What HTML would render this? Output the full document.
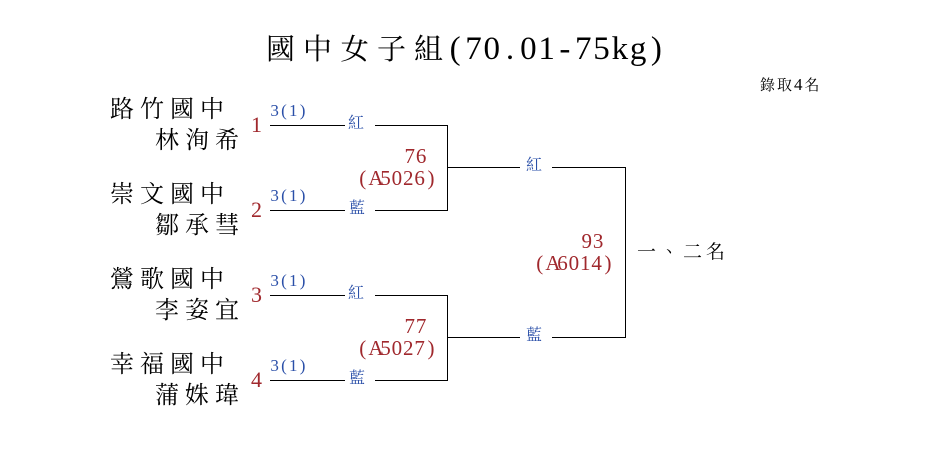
<html><head><style>
body{margin:0;width:935px;height:465px;background:#fff;position:relative;overflow:hidden;font-family:"Noto Serif CJK TC","Noto Serif CJK SC",serif}
div{position:absolute;white-space:nowrap;line-height:1}
.m{font-family:"Liberation Serif",serif}
.m span{display:inline-block;text-align:center}
.t span{width:18.3px}
.q span{width:9.3px}
.p span{width:11.4px}
.n{font-size:24px;color:#000;letter-spacing:6px}
.r{color:#a0282d}
.b{color:#2a4fa8}
.s{font-size:16px}
.h{position:absolute;background:#000;height:1px}
.v{position:absolute;background:#000;width:1px}
</style></head><body>
<div style="left:266px;top:33px;font-size:29px;letter-spacing:8px">國中女子組</div>
<div class="m t" style="left:446px;top:33px;font-size:33px"><span>(</span><span>7</span><span>0</span><span>.</span><span>0</span><span>1</span><span>-</span><span>7</span><span>5</span><span>k</span><span>g</span><span>)</span></div>
<div style="left:760px;top:76px;font-size:15px;letter-spacing:2px">錄取<span class="m" style="font-size:17px">4</span>名</div>

<div class="n" style="left:110px;top:95px">路竹國中</div>
<div class="n" style="left:155px;top:126px">林洵希</div>
<div class="n" style="left:110px;top:180px">崇文國中</div>
<div class="n" style="left:155px;top:211px">鄒承彗</div>
<div class="n" style="left:110px;top:265px">鶯歌國中</div>
<div class="n" style="left:155px;top:296px">李姿宜</div>
<div class="n" style="left:110px;top:350px">幸福國中</div>
<div class="n" style="left:155px;top:381px">蒲姝瑋</div>

<div class="r m" style="left:251px;top:114px;font-size:22px">1</div>
<div class="r m" style="left:251px;top:199px;font-size:22px">2</div>
<div class="r m" style="left:251px;top:284px;font-size:22px">3</div>
<div class="r m" style="left:251px;top:369px;font-size:22px">4</div>
<div class="b m q" style="left:270px;top:102px;font-size:17px"><span>3</span><span>(</span><span>1</span><span>)</span></div>
<div class="b m q" style="left:270px;top:187px;font-size:17px"><span>3</span><span>(</span><span>1</span><span>)</span></div>
<div class="b m q" style="left:270px;top:272px;font-size:17px"><span>3</span><span>(</span><span>1</span><span>)</span></div>
<div class="b m q" style="left:270px;top:357px;font-size:17px"><span>3</span><span>(</span><span>1</span><span>)</span></div>

<div class="h" style="left:270px;top:125px;width:75px"></div><div class="h" style="left:375px;top:125px;width:72px"></div>
<div class="h" style="left:270px;top:210px;width:75px"></div><div class="h" style="left:375px;top:210px;width:72px"></div>
<div class="h" style="left:270px;top:295px;width:75px"></div><div class="h" style="left:375px;top:295px;width:72px"></div>
<div class="h" style="left:270px;top:380px;width:75px"></div><div class="h" style="left:375px;top:380px;width:72px"></div>
<div class="v" style="left:447px;top:125px;height:86px"></div>
<div class="v" style="left:447px;top:295px;height:86px"></div>
<div class="b s" style="left:348px;top:114px">紅</div>
<div class="b s" style="left:349px;top:199px">藍</div>
<div class="b s" style="left:348px;top:284px">紅</div>
<div class="b s" style="left:349px;top:369px">藍</div>

<div class="h" style="left:447px;top:167px;width:73px"></div><div class="h" style="left:552px;top:167px;width:73px"></div>
<div class="h" style="left:447px;top:337px;width:73px"></div><div class="h" style="left:552px;top:337px;width:73px"></div>
<div class="v" style="left:625px;top:167px;height:171px"></div>
<div class="b s" style="left:526px;top:156px">紅</div>
<div class="b s" style="left:526px;top:326px">藍</div>

<div class="r m p" style="left:404px;top:146px;font-size:21px"><span>7</span><span>6</span></div>
<div class="r m p" style="left:357px;top:168px;font-size:21px"><span>(</span><span>A</span><span>5</span><span>0</span><span>2</span><span>6</span><span>)</span></div>
<div class="r m p" style="left:404px;top:316px;font-size:21px"><span>7</span><span>7</span></div>
<div class="r m p" style="left:357px;top:338px;font-size:21px"><span>(</span><span>A</span><span>5</span><span>0</span><span>2</span><span>7</span><span>)</span></div>
<div class="r m p" style="left:581px;top:231px;font-size:21px"><span>9</span><span>3</span></div>
<div class="r m p" style="left:534px;top:253px;font-size:21px"><span>(</span><span>A</span><span>6</span><span>0</span><span>1</span><span>4</span><span>)</span></div>
<div style="left:637px;top:241px;font-size:19px;letter-spacing:4px">一、二名</div>
</body></html>
